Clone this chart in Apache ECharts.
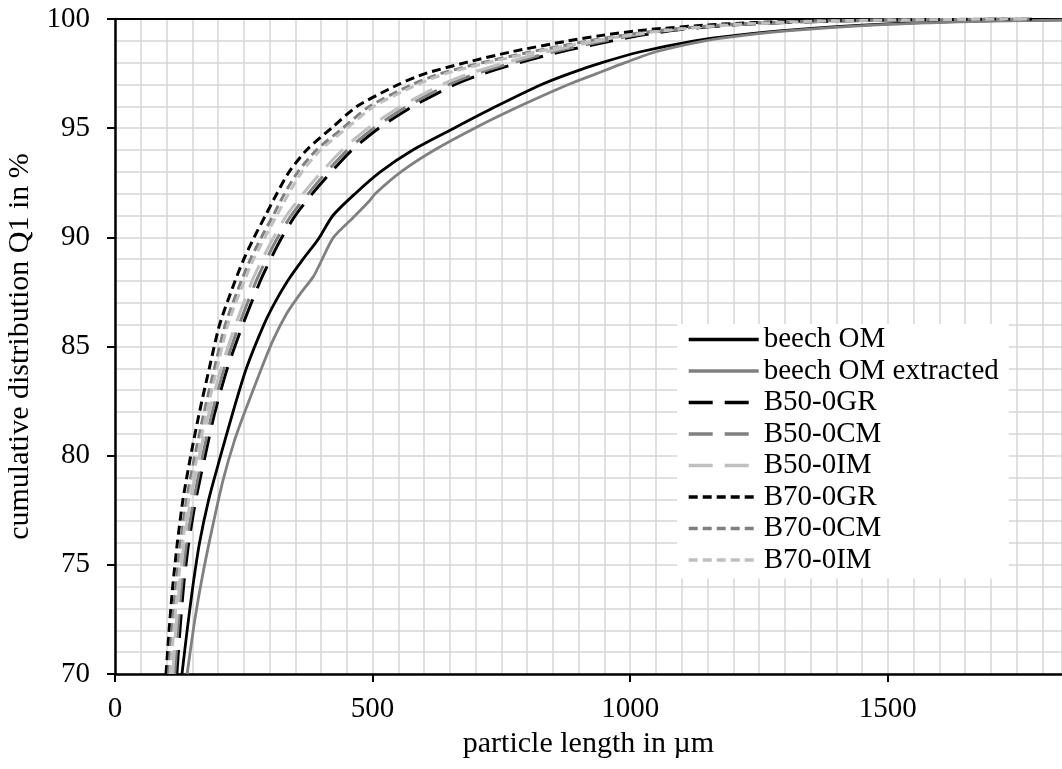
<!DOCTYPE html>
<html>
<head>
<meta charset="utf-8">
<script src="https://cdn.jsdelivr.net/npm/echarts@6/dist/echarts.min.js"></script>
<style>
html,body{margin:0;padding:0;background:#fff;}
#chart{width:1062px;height:769px;}
</style>
</head>
<body>
<div id="chart"></div>
<script>
const seriesNames = ['beech OM','beech OM extracted','B50-0GR','B50-0CM','B50-0IM','B70-0GR','B70-0CM','B70-0IM'];
const xTickLabels = [0, 500, 1000, 1500];
const yTickLabels = [70, 75, 80, 85, 90, 95, 100];

// [particle length in µm, cumulative distribution Q1 in %]
const beechOM = [[130,70],[140,72],[151,74],[164,76],[182,78],[205,80],[229,82],[255,84],[289,86],[310,87],[335,88],[365,89],[388,89.7],[397,90],[423,91],[466,92],[515,93],[578,94],[658,95],[740,96],[828,97],[882,97.5],[945,98],[1020,98.5],[1125,99],[1205,99.25],[1315,99.5],[1480,99.75],[1660,99.9],[1840,99.96]];
const beechOMExtracted = [[140,70],[155,72.5],[169,74.4],[188,76.6],[210,78.9],[232,80.7],[255,82.2],[281,83.8],[307,85.3],[333,86.5],[359,87.4],[385,88.2],[398,88.8],[424,90],[462,90.9],[495,91.7],[505,92],[555,93],[620,94],[698,95],[785,96],[880,97],[935,97.5],[990,98],[1050,98.5],[1145,99],[1220,99.25],[1330,99.5],[1500,99.75],[1700,99.9],[1840,99.95]];
const b50GR = [[120,70],[126,72],[133,74],[143,76],[157,78],[175,80],[194,82],[218,84],[248,86],[282,88],[302,89],[324,90],[350,91],[383,92],[420,93],[460,94],[512,95],[578,96],[660,97],[715,97.5],[785,98],[865,98.5],[965,99],[1020,99.25],[1090,99.5],[1215,99.75],[1390,99.9],[1600,99.97],[1780,100]];
const b50CM = [[116,70],[122,72],[129,74],[139,76],[153,78],[170,80],[189,82],[212,84],[241,86],[274,88],[294,89],[316,90],[342,91],[375,92],[411,93],[451,94],[502,95],[567,96],[648,97],[702,97.5],[772,98],[852,98.5],[952,99],[1008,99.25],[1078,99.5],[1205,99.75],[1380,99.9],[1590,99.97],[1775,100]];
const b50IM = [[112,70],[118,72],[125,74],[134,76],[147,78],[164,80],[183,82],[206,84],[234,86],[266,88],[286,89],[308,90],[333,91],[365,92],[401,93],[441,94],[491,95],[555,96],[635,97],[688,97.5],[758,98],[838,98.5],[938,99],[995,99.25],[1065,99.5],[1195,99.75],[1370,99.9],[1580,99.97],[1770,100]];
const b70GR = [[99,70],[105,72],[112,74],[121,76],[132,78],[147,80],[164,82],[183,84],[203,86],[233,88],[250,89],[270,90],[292,91],[314,92],[338,93],[372,94],[420,95],[470,96],[550,97],[602,97.5],[680,98],[770,98.5],[880,99],[945,99.25],[1030,99.5],[1165,99.75],[1320,99.9],[1560,99.97],[1750,100]];
const b70CM = [[104,70],[110,72],[118,74],[127,76],[139,78],[155,80],[173,82],[193,84],[214,86],[245,88],[263,89],[284,90],[307,91],[329,92],[355,93],[391,94],[442,95],[494,96],[577,97],[632,97.5],[713,98],[808,98.5],[920,99],[985,99.25],[1068,99.5],[1195,99.75],[1345,99.9],[1580,99.97],[1760,100]];
const b70IM = [[107,70],[114,72],[122,74],[131,76],[143,78],[160,80],[178,82],[198,84],[219,86],[251,88],[269,89],[291,90],[314,91],[337,92],[363,93],[399,94],[450,95],[503,96],[587,97],[642,97.5],[723,98],[818,98.5],[930,99],[995,99.25],[1078,99.5],[1205,99.75],[1355,99.9],[1590,99.97],[1770,100]];

const seriesData = [beechOM, beechOMExtracted, b50GR, b50CM, b50IM, b70GR, b70CM, b70IM];
const colors = ['#000000','#808080','#000000','#808080','#bfbfbf','#000000','#808080','#bfbfbf'];
const LONG = [24, 12], SHORT = [9, 5];
const dashes = ['solid','solid',LONG,LONG,LONG,SHORT,SHORT,SHORT];
const widths = [2.8, 2.8, 3, 3, 3, 3, 3, 3];

const FONT = "'Liberation Serif', 'Times New Roman', serif";
const XMIN = 0, XMAX = 1838, YMIN = 70, YMAX = 100;

const chart = echarts.init(document.getElementById('chart'), null, {renderer: 'canvas'});
chart.setOption({
  animation: false,
  backgroundColor: '#ffffff',
  textStyle: {fontFamily: FONT, color: '#000'},
  grid: {left: 115, top: 19, right: 0, bottom: 95, containLabel: false, outerBoundsMode: 'none'},
  legend: {
    data: seriesNames,
    orient: 'vertical',
    left: 677, top: 324,
    backgroundColor: '#ffffff',
    padding: [1, 10, 4, 10],
    itemWidth: 70, itemHeight: 14, itemGap: 2.5,
    itemStyle: {opacity: 0, borderWidth: 0},
    lineStyle: {width: 3.4},
    textStyle: {fontFamily: FONT, fontSize: 29, color: '#000'}
  },
  xAxis: [
    {type: 'value', min: XMIN, max: XMAX, interval: 50,
      axisLine: {show: false}, axisTick: {show: false}, axisLabel: {show: false},
      splitLine: {show: true, lineStyle: {color: '#d6d6d6', width: 1.5}}},
    {type: 'value', min: XMIN, max: XMAX, interval: 500, position: 'bottom',
      axisLine: {show: true, onZero: false, lineStyle: {color: '#000', width: 2.5}},
      axisTick: {show: true, length: 8, lineStyle: {color: '#000', width: 2}},
      axisLabel: {show: true, margin: 21, fontSize: 29, fontFamily: FONT, color: '#000', showMaxLabel: false,
        formatter: v => xTickLabels.includes(v) ? String(v) : ''},
      splitLine: {show: false},
      name: 'particle length in µm', nameLocation: 'middle', nameGap: 47,
      nameTextStyle: {fontSize: 30, fontFamily: FONT, color: '#000'}},
    {type: 'value', min: XMIN, max: XMAX, position: 'top',
      axisLine: {show: true, onZero: false, lineStyle: {color: '#000', width: 1.8}},
      axisTick: {show: false}, axisLabel: {show: false}, splitLine: {show: false}}
  ],
  yAxis: [
    {type: 'value', min: YMIN, max: YMAX, interval: 1,
      axisLine: {show: false}, axisTick: {show: false}, axisLabel: {show: false},
      splitLine: {show: true, lineStyle: {color: '#d6d6d6', width: 1.5}}},
    {type: 'value', min: YMIN, max: YMAX, interval: 5, position: 'left',
      axisLine: {show: true, onZero: false, lineStyle: {color: '#000', width: 2.5}},
      axisTick: {show: true, length: 8, lineStyle: {color: '#000', width: 2}},
      axisLabel: {show: true, margin: 25, fontSize: 29, fontFamily: FONT, color: '#000',
        formatter: v => yTickLabels.includes(v) ? String(v) : ''},
      splitLine: {show: false},
      name: 'cumulative distribution Q1 in %', nameLocation: 'middle', nameGap: 79,
      nameTextStyle: {fontSize: 30, fontFamily: FONT, color: '#000'}}
  ],
  series: seriesNames.map((n, i) => ({
    name: n, type: 'line', xAxisIndex: 0, yAxisIndex: 0,
    data: seriesData[i], showSymbol: false, symbol: 'none',
    smooth: 0.25, clip: true,
    lineStyle: {color: colors[i], width: widths[i], type: dashes[i], cap: 'butt'},
    itemStyle: {color: colors[i]},
    z: 2 + i
  }))
});
</script>
</body>
</html>
